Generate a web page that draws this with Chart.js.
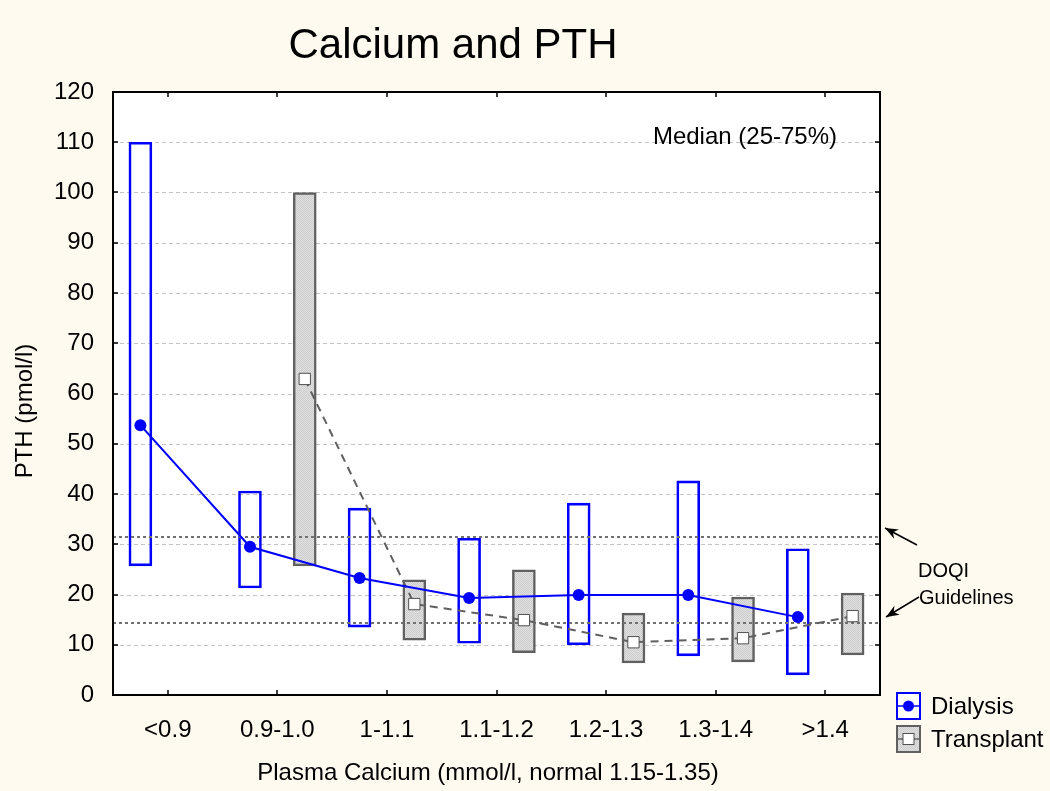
<!DOCTYPE html>
<html>
<head>
<meta charset="utf-8">
<script src="https://cdn.jsdelivr.net/npm/chart.js@4/dist/chart.umd.min.js"></script>
<style>
  html, body { margin: 0; padding: 0; background: #fefaf0; }
  canvas { display: block; }
</style>
</head>
<body>
<canvas id="chart" width="1050" height="791"></canvas>
<script>
// values
const categories = ['<0.9', '0.9-1.0', '1-1.1', '1.1-1.2', '1.2-1.3', '1.3-1.4', '>1.4'];
const dialysisLow = [25.7, 21.3, 13.5, 10.3, 10.0, 7.8, 4.0];
const dialysisHigh = [110, 40.6, 37.2, 31.2, 38.2, 42.6, 29.1];
const dialysisMedian = [53.7, 29.5, 23.3, 19.3, 19.9, 19.9, 15.5];
const transplantLow = [null, 25.7, 10.9, 8.4, 6.4, 6.6, 8.0];
const transplantHigh = [null, 100, 22.9, 24.9, 16.3, 19.5, 20.3];
const transplantMedian = [null, 62.9, 18.1, 14.9, 10.5, 11.3, 15.7];
const yTicks = [0, 10, 20, 30, 40, 50, 60, 70, 80, 90, 100, 110, 120];
const doqiLines = [31.4, 14.4];

const FONT = '"Liberation Sans", Arial, sans-serif';
const BLUE = '#0000ff';
const GREY = '#606060';

// stippled grey fill used by the transplant boxes
function stipple() {
  const c = document.createElement('canvas');
  c.width = 2; c.height = 2;
  const g = c.getContext('2d');
  g.fillStyle = '#e0e0e0'; g.fillRect(0, 0, 2, 2);
  g.fillStyle = '#cdcdcd'; g.fillRect(0, 0, 1, 1); g.fillRect(1, 1, 1, 1);
  return g.createPattern(c, 'repeat');
}
const greyFill = stipple();

// dialysis sits a quarter category left of the tick, transplant a quarter right
const boxes = (lo, hi, shift) => lo.map((v, i) => ({ x: i + shift, y: v == null ? null : [v, hi[i]] })).filter(p => p.y != null);
const medians = (arr, shift) => arr.map((v, i) => ({ x: i + shift, y: v })).filter(p => p.y != null);

const decor = {
  id: 'decor',
  beforeDraw(chart) {
    const { ctx, chartArea: a } = chart;
    ctx.save();
    ctx.fillStyle = '#fefaf0';
    ctx.fillRect(0, 0, chart.width, chart.height);
    ctx.fillStyle = '#ffffff';
    ctx.fillRect(a.left, a.top, a.right - a.left, a.bottom - a.top);
    // light dashed grid
    const y = chart.scales.y;
    ctx.strokeStyle = '#c4c4c4';
    ctx.lineWidth = 1;
    ctx.setLineDash([4, 3]);
    yTicks.forEach(t => {
      const py = Math.round(y.getPixelForValue(t)) + 0.5;
      ctx.beginPath(); ctx.moveTo(a.left, py); ctx.lineTo(a.right, py); ctx.stroke();
    });
    ctx.restore();
  },
  afterDatasetDraw(chart, args) {
    // DOQI guideline lines go over the boxes but under the median lines
    if (args.index !== 0) return;
    const { ctx, chartArea: a } = chart;
    const y = chart.scales.y;
    ctx.save();
    ctx.strokeStyle = '#707070';
    ctx.lineWidth = 2;
    ctx.setLineDash([3, 3]);
    doqiLines.forEach(v => {
      const py = Math.round(y.getPixelForValue(v));
      ctx.beginPath(); ctx.moveTo(a.left, py); ctx.lineTo(a.right, py); ctx.stroke();
    });
    ctx.restore();
  },
  afterDraw(chart) {
    const { ctx, chartArea: a } = chart;
    const x = chart.scales.x, y = chart.scales.y;
    ctx.save();

    // frame and inward tick marks
    ctx.strokeStyle = '#000';
    ctx.lineWidth = 2;
    ctx.strokeRect(a.left, a.top, a.right - a.left, a.bottom - a.top);
    ctx.lineWidth = 1.5;
    ctx.beginPath();
    yTicks.forEach(t => {
      const py = Math.round(y.getPixelForValue(t));
      ctx.moveTo(a.left, py); ctx.lineTo(a.left + 5, py);
      ctx.moveTo(a.right, py); ctx.lineTo(a.right - 5, py);
    });
    categories.forEach((c, i) => {
      const px = Math.round(x.getPixelForValue(i));
      ctx.moveTo(px, a.bottom); ctx.lineTo(px, a.bottom - 5);
      ctx.moveTo(px, a.top); ctx.lineTo(px, a.top + 5);
    });
    ctx.stroke();

    ctx.fillStyle = '#000';
    ctx.textBaseline = 'middle';

    // title
    ctx.font = '42px ' + FONT;
    ctx.textAlign = 'center';
    ctx.fillText('Calcium and PTH', 453, 46);

    // axis titles
    ctx.font = '24px ' + FONT;
    ctx.fillText('Plasma Calcium (mmol/l, normal 1.15-1.35)', 488, 773);
    ctx.save();
    ctx.translate(25, 411);
    ctx.rotate(-Math.PI / 2);
    ctx.fillText('PTH (pmol/l)', 0, 0);
    ctx.restore();

    // statistic note
    ctx.textAlign = 'right';
    ctx.fillText('Median (25-75%)', 837, 137);

    // DOQI note with arrows
    ctx.textAlign = 'left';
    ctx.font = '20px ' + FONT;
    ctx.fillText('DOQI', 918, 571);
    ctx.fillText('Guidelines', 919, 598);
    const arrow = (x0, y0, x1, y1) => {
      const ang = Math.atan2(y1 - y0, x1 - x0);
      ctx.strokeStyle = '#000';
      ctx.lineWidth = 1.5;
      ctx.beginPath(); ctx.moveTo(x0, y0); ctx.lineTo(x1, y1); ctx.stroke();
      ctx.beginPath();
      ctx.moveTo(x1, y1);
      ctx.lineTo(x1 - 14 * Math.cos(ang - 0.38), y1 - 14 * Math.sin(ang - 0.38));
      ctx.lineTo(x1 - 9 * Math.cos(ang), y1 - 9 * Math.sin(ang));
      ctx.lineTo(x1 - 14 * Math.cos(ang + 0.38), y1 - 14 * Math.sin(ang + 0.38));
      ctx.closePath();
      ctx.fill();
    };
    arrow(917, 545, 885, 528);
    arrow(919, 597, 886, 617);

    // legend
    const sets = chart.data.datasets;
    const lx = 897, lw = 23, lh = 26;
    [[sets[0], 693], [sets[1], 726]].forEach(([ds, ly], k) => {
      const cy = ly + lh / 2;
      ctx.fillStyle = k === 0 ? '#ffffff' : greyFill;
      ctx.fillRect(lx, ly, lw, lh);
      ctx.strokeStyle = ds.borderColor;
      ctx.lineWidth = 2;
      ctx.strokeRect(lx, ly, lw, lh);
      ctx.lineWidth = 1.5;
      ctx.beginPath(); ctx.moveTo(lx, cy); ctx.lineTo(lx + lw, cy); ctx.stroke();
      if (k === 0) {
        ctx.fillStyle = BLUE;
        ctx.beginPath(); ctx.arc(lx + lw / 2, cy, 5.5, 0, Math.PI * 2); ctx.fill();
      } else {
        ctx.fillStyle = '#fff';
        ctx.fillRect(lx + lw / 2 - 5.5, cy - 5.5, 11, 11);
        ctx.strokeStyle = '#505050';
        ctx.lineWidth = 1;
        ctx.strokeRect(lx + lw / 2 - 5.5, cy - 5.5, 11, 11);
      }
      ctx.fillStyle = '#000';
      ctx.font = '24px ' + FONT;
      ctx.fillText(ds.label, 931, cy + 1);
    });

    ctx.restore();
  }
};

new Chart(document.getElementById('chart'), {
  type: 'bar',
  data: {
    labels: categories,
    datasets: [
      {
        label: 'Dialysis',
        data: boxes(dialysisLow, dialysisHigh, -0.25),
        xAxisID: 'x2',
        backgroundColor: 'rgba(255,255,255,0)',
        borderColor: BLUE,
        borderWidth: 2,
        borderSkipped: false,
        grouped: false,
        barThickness: 23,
        order: 1
      },
      {
        label: 'Transplant',
        data: boxes(transplantLow, transplantHigh, 0.25),
        xAxisID: 'x2',
        backgroundColor: greyFill,
        borderColor: GREY,
        borderWidth: 2.5,
        borderSkipped: false,
        grouped: false,
        barThickness: 23,
        order: 1
      },
      {
        type: 'line',
        label: 'Dialysis median',
        data: medians(dialysisMedian, -0.25),
        xAxisID: 'x2',
        borderColor: BLUE,
        borderWidth: 2,
        pointStyle: 'circle',
        pointRadius: 6,
        pointBackgroundColor: BLUE,
        pointBorderColor: BLUE,
        pointBorderWidth: 0,
        order: 0
      },
      {
        type: 'line',
        label: 'Transplant median',
        data: medians(transplantMedian, 0.25),
        xAxisID: 'x2',
        borderColor: GREY,
        borderWidth: 2,
        borderDash: [8, 6],
        pointStyle: 'rect',
        pointRadius: 8,
        pointBackgroundColor: '#ffffff',
        pointBorderColor: '#505050',
        pointBorderWidth: 1,
        order: 0
      }
    ]
  },
  options: {
    responsive: false,
    animation: false,
    devicePixelRatio: 1,
    layout: { padding: { left: 0, right: 170, top: 92, bottom: 0 } },
    plugins: {
      legend: { display: false },
      title: { display: false },
      tooltip: { enabled: false }
    },
    scales: {
      x: {
        type: 'category',
        offset: true,
        grid: { display: false },
        border: { display: false },
        ticks: { color: '#000', font: { family: FONT, size: 24 }, padding: 13, maxRotation: 0, autoSkip: false },
        afterFit: s => { s.height = 96; }
      },
      x2: {
        type: 'linear',
        min: -0.5,
        max: 6.5,
        offset: false,
        grid: { display: false, offset: false },
        display: false
      },
      y: {
        min: 0,
        max: 120,
        grid: { display: false },
        border: { display: false },
        ticks: { stepSize: 10, color: '#000', font: { family: FONT, size: 24 }, padding: 11 },
        afterFit: s => { s.width = 113; }
      }
    }
  },
  plugins: [decor]
});
</script>
</body>
</html>
